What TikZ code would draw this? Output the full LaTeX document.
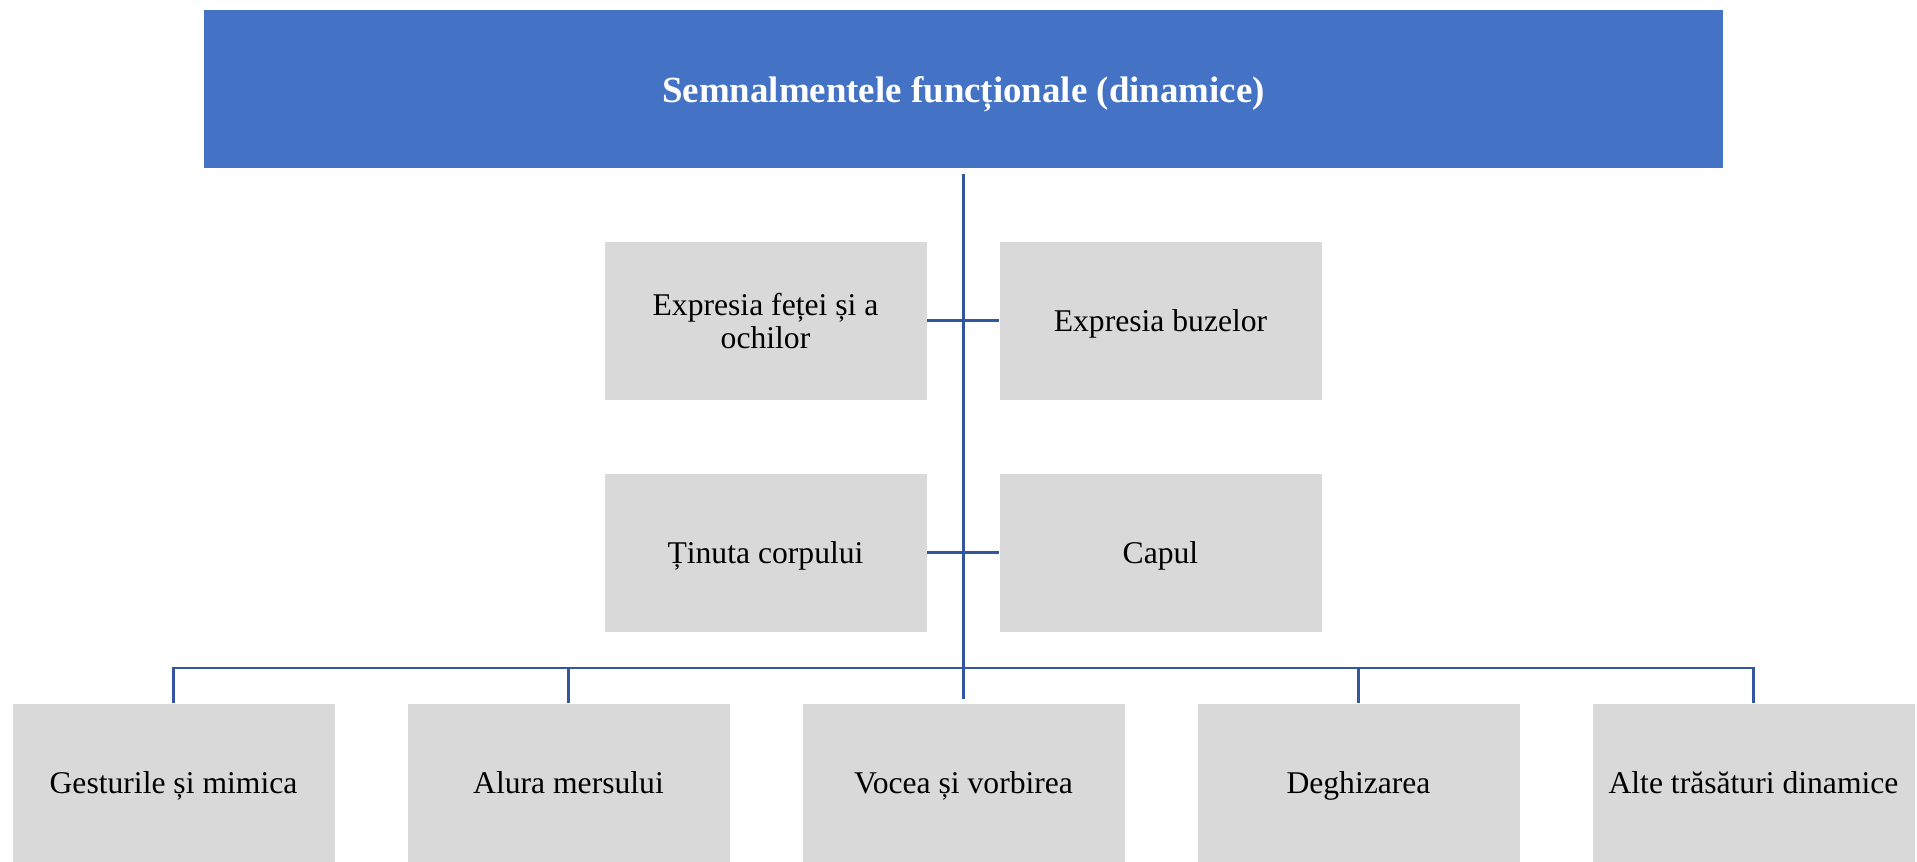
\documentclass[tikz,border=0pt]{standalone}
\usepackage{fontspec}
\setmainfont{Liberation Serif}
\usetikzlibrary{positioning}
\definecolor{headblue}{RGB}{68,114,196}
\definecolor{boxgray}{RGB}{217,217,217}
\definecolor{linkblue}{RGB}{52,86,160}

\begin{document}
\begin{tikzpicture}[
    node distance=7.9cm,
    every node/.style={align=center},
    title/.style={rectangle, minimum width=30.38cm, minimum height=3.16cm, text depth=0pt, fill=headblue, text=white, font=\fontsize{21}{24}\selectfont\bfseries},
    item/.style={rectangle, minimum width=6.46cm, minimum height=3.18cm, text depth=0pt, fill=boxgray, draw=white, font=\fontsize{18}{18.8}\selectfont},
    link/.style={draw=linkblue, line width=1.3pt},
    pair/.style={draw=linkblue, line width=2pt}
]

\useasboundingbox (-19.27,1.78) rectangle (19.07,-15.44);

% Main components
\node[title] (root) {Semnalmentele funcționale (dinamice)};
\node[item, node distance=4.63cm, below of=root, xshift=-3.96cm] (expr) {Expresia feței și a\\ochilor};
\node[item, right of=expr] (buze) {Expresia buzelor};
\node[item, node distance=4.64cm, below of=expr] (tinuta) {Ținuta corpului};
\node[item, right of=tinuta] (capul) {Capul};

% Bottom row
\node[item, node distance=13.87cm, below of=root] (voce) {Vocea și vorbirea};
\node[item, left of=voce] (alura) {Alura mersului};
\node[item, left of=alura] (gest) {Gesturile și mimica};
\node[item, right of=voce] (deghiz) {Deghizarea};
\node[item, right of=deghiz] (alte) {Alte trăsături dinamice};

% Connections
\draw[link, shorten <=0.12cm, shorten >=0.08cm] (root.south) -- (voce.north);
\path (voce.north) ++(0,0.7) coordinate (bus);
\draw[link] (gest.north) |- (bus) -| (alte.north);
\foreach \n in {alura,deghiz}
    \draw[link] (\n.north) -- (\n.north |- bus);
\draw[pair] (expr.east) -- (buze.west);
\draw[pair] (tinuta.east) -- (capul.west);

\end{tikzpicture}
\end{document}
